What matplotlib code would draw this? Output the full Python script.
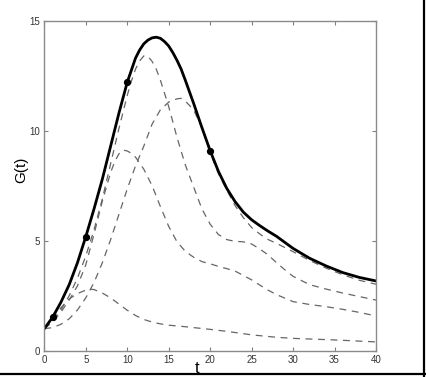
import matplotlib
matplotlib.use("Agg")
import matplotlib.pyplot as plt
from matplotlib.lines import Line2D

# ---- data ----
t_solid = [0, 1, 2, 3, 4, 5, 6, 7, 8, 9, 10, 11, 11.5, 12, 12.5, 13, 13.5, 14, 14.5, 15, 15.5,
           16, 16.5, 17, 18, 19, 20, 21, 22, 23, 24, 25, 26, 27, 28, 30, 32, 34, 36, 38, 40]
G_solid = [1.0, 1.52, 2.2, 3.0, 4.0, 5.18, 6.45, 7.8, 9.3, 10.8, 12.2, 13.3, 13.67, 13.95, 14.12,
           14.22, 14.25, 14.2, 14.05, 13.85, 13.55, 13.2, 12.8, 12.3, 11.25, 10.15, 9.09, 8.15,
           7.38, 6.78, 6.3, 5.95, 5.68, 5.43, 5.2, 4.65, 4.2, 3.85, 3.55, 3.33, 3.17]

t_marks = [1, 5, 10, 20]
G_marks = [1.52, 5.18, 12.2, 9.09]

t_A = [0, 1, 2, 3, 4, 5, 6, 7, 8, 9, 10, 10.5, 11, 11.5, 12, 12.5, 13, 13.5, 14, 15, 16, 17, 18,
       19, 20, 21, 22, 23, 24, 25, 26, 27, 28, 29, 30, 32, 34, 36, 38, 40]
G_A = [1.0, 1.35, 1.85, 2.5, 3.3, 4.3, 5.5, 6.9, 8.5, 10.1, 11.6, 12.25, 12.8, 13.17, 13.4, 13.38,
       13.15, 12.8, 12.3, 11.1, 9.7, 8.45, 7.45, 6.45, 5.75, 5.28, 5.05, 4.97, 4.95, 4.85, 4.62,
       4.35, 4.0, 3.68, 3.38, 3.0, 2.8, 2.62, 2.46, 2.30]

t_B = [0, 1, 2, 3, 4, 5, 6, 7, 8, 9, 10, 11, 12, 13, 14, 15, 16, 16.5, 17, 18, 19, 20, 21, 22,
       23, 24, 25, 26, 27, 28, 30, 32, 34, 36, 38, 40]
G_B = [1.0, 1.05, 1.2, 1.45, 1.85, 2.4, 3.1, 4.0, 5.05, 6.2, 7.35, 8.4, 9.3, 10.3, 10.95, 11.3,
       11.45, 11.47, 11.35, 10.95, 10.15, 9.0, 8.05, 7.3, 6.6, 6.05, 5.6, 5.3, 5.05, 4.88, 4.5,
       4.1, 3.75, 3.45, 3.2, 3.02]

t_C = [0, 1, 2, 3, 4, 5, 6, 7, 8, 8.5, 9, 9.5, 10, 10.5, 11, 12, 13, 14, 15, 16, 17, 18, 19, 20,
       21, 22, 23, 24, 25, 26, 27, 28, 30, 32, 34, 36, 38, 40]
G_C = [1.0, 1.3, 1.75, 2.3, 2.95, 3.9, 5.3, 6.8, 8.1, 8.6, 8.95, 9.12, 9.08, 8.97, 8.8, 8.25, 7.5,
       6.55, 5.65, 4.95, 4.52, 4.25, 4.05, 3.95, 3.83, 3.73, 3.62, 3.42, 3.22, 2.98, 2.75, 2.55,
       2.23, 2.1, 2.0, 1.88, 1.74, 1.58]

t_D = [0, 1, 2, 3, 4, 5, 5.7, 6, 7, 8, 9, 10, 11, 12, 13, 14, 15, 17, 20, 22, 25, 28, 30, 35, 40]
G_D = [1.0, 1.45, 1.95, 2.35, 2.6, 2.75, 2.79, 2.78, 2.62, 2.4, 2.12, 1.84, 1.6, 1.42, 1.3,
       1.22, 1.16, 1.09, 0.97, 0.88, 0.72, 0.61, 0.56, 0.49, 0.40]

x_ticks = [0, 5, 10, 15, 20, 25, 30, 35, 40]
y_ticks = [0, 5, 10, 15]

plt.rcParams['font.family'] = ['Liberation Sans', 'DejaVu Sans']

fig = plt.figure(figsize=(4.26, 3.77), dpi=100)
ax = fig.add_axes([44.3 / 426, 1 - 350.7 / 377, (376 - 44.3) / 426, (350.7 - 20.7) / 377])

dash_col = '#666666'
for tt, gg in [(t_A, G_A), (t_B, G_B), (t_C, G_C), (t_D, G_D)]:
    ax.plot(tt, gg, color=dash_col, lw=0.9, dashes=(5.5, 4.5))

ax.plot(t_solid, G_solid, color='black', lw=2.0, solid_joinstyle='round')
ax.plot(t_marks, G_marks, 'o', color='black', ms=4.2)

ax.set_xlim(0, 40)
ax.set_ylim(0, 15)
ax.set_xticks(x_ticks)
ax.set_yticks(y_ticks)
ax.tick_params(direction='in', length=3, width=0.8, colors='#808080', labelcolor='#333333',
               labelsize=7, top=True, right=True, pad=3)
for s in ax.spines.values():
    s.set_color('#8a8a8a')
    s.set_linewidth(1.0)

ax.set_ylabel('G(t)', fontsize=11)
ax.yaxis.set_label_coords(-0.049, 0.548)
ax.set_xlabel('t', fontsize=12)
ax.xaxis.set_label_coords(0.46, -0.030)

# border at bottom and right of the image
fig.add_artist(Line2D([0, 1], [3 / 377, 3 / 377], transform=fig.transFigure, color='black', lw=1.6))
fig.add_artist(Line2D([1 - 2.5 / 426, 1 - 2.5 / 426], [0, 1], transform=fig.transFigure, color='black', lw=1.6))

fig.savefig('out.png', dpi=100)
